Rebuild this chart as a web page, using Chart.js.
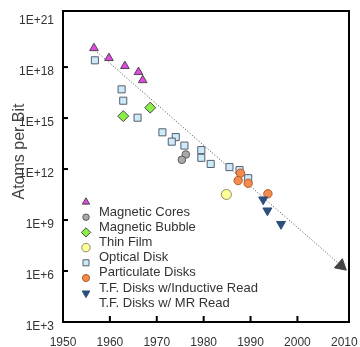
<!DOCTYPE html>
<html><head><meta charset="utf-8">
<script src="https://cdn.jsdelivr.net/npm/chart.js@4/dist/chart.umd.min.js"></script>
<style>html,body{margin:0;padding:0;background:#fff;}#wrap{width:360px;height:347px;}</style>
</head><body><div id="wrap"><canvas id="c" width="360" height="347"></canvas></div>
<script>
// ---- data ----
const seriesNames = ["Magnetic Cores", "Magnetic Bubble", "Thin Film", "Optical Disk", "Particulate Disks", "T.F. Disks w/Inductive Read", "T.F. Disks w/ MR Read"];
const coresYears = [1956.6, 1959.8, 1963.2, 1966.1, 1967.0];
const coresValues = [1.3e19, 3.4e18, 1.15e18, 5.1e17, 1.7e17];
const bubbleYears = [1976.2, 1975.35];
const bubbleValues = [7.2e12, 3.5e12];
const thinFilmYears = [1962.85, 1968.6];
const thinFilmValues = [1.3e15, 4.1e15];
const opticalYears = [1984.85];
const opticalValues = [3.2e10];
const particulateYears = [1956.8, 1962.5, 1962.85, 1965.9, 1971.2, 1974.05, 1973.2, 1975.9, 1979.5, 1979.5, 1981.5, 1985.5, 1987.65, 1989.5];
const particulateValues = [2.5e18, 4.9e16, 1.05e16, 1.05e15, 1.45e14, 7.6e13, 4.1e13, 2.4e13, 1.3e13, 4.6e12, 2.0e12, 1.3e12, 8.7e11, 2.9e11];
const inductiveYears = [1987.85, 1987.35, 1989.5, 1993.7];
const inductiveValues = [5.7e11, 2.1e11, 1.45e11, 3.5e10];
const mrYears = [1992.7, 1993.6, 1996.5];
const mrValues = [1.6e10, 3.6e9, 5.8e8];
const trendYears = [1956.8, 2009.3];
const trendValues = [1.0e19, 2.1e6];
const xTickValues = [1950, 1960, 1970, 1980, 1990, 2000, 2010];
const yTickExponents = [3, 6, 9, 12, 15, 18, 21];
const yAxisTitle = "Atoms per Bit";

function pts(xs, ys) { return xs.map((x, i) => ({ x: x, y: ys[i] })); }

const styles = [
  { pointStyle: 'triangle', radius: 5, rotation: 0, bg: '#e645e6', border: '#4a4a4a' },
  { pointStyle: 'circle', radius: 3.8, rotation: 0, bg: '#a9a9a9', border: '#5a5a5a' },
  { pointStyle: 'rectRot', radius: 5.5, rotation: 0, bg: '#8cec48', border: '#4a4a4a' },
  { pointStyle: 'circle', radius: 5, rotation: 0, bg: '#ffff99', border: '#8a8a6a' },
  { pointStyle: 'rect', radius: 5, rotation: 0, bg: '#cde9fa', border: '#55606a' },
  { pointStyle: 'circle', radius: 4.2, rotation: 0, bg: '#f48a4e', border: '#b35a2a' },
  { pointStyle: 'triangle', radius: 5.2, rotation: 180, bg: '#2d4f7c', border: '#2d4f7c' }
];
const seriesData = [
  pts(coresYears, coresValues), pts(bubbleYears, bubbleValues), pts(thinFilmYears, thinFilmValues),
  pts(opticalYears, opticalValues), pts(particulateYears, particulateValues),
  pts(inductiveYears, inductiveValues), pts(mrYears, mrValues)
];

const datasets = seriesData.map((d, i) => ({
  label: seriesNames[i], data: d, type: 'scatter', showLine: false,
  pointStyle: styles[i].pointStyle, pointRadius: styles[i].radius, pointRotation: styles[i].rotation,
  pointBackgroundColor: styles[i].bg, pointBorderColor: styles[i].border, pointBorderWidth: 1,
  pointHoverRadius: styles[i].radius, order: 7 - i
}));
datasets.push({
  label: 'trend', type: 'line', data: pts(trendYears, trendValues),
  borderColor: '#444', borderWidth: 1, borderDash: [1, 2], fill: false,
  pointRadius: [0, 7], pointHoverRadius: [0, 7], pointStyle: 'triangle', pointRotation: 131.2,
  pointBackgroundColor: '#444', pointBorderColor: '#444', pointBorderWidth: 1, order: 20
});

const FONT = "'Liberation Sans', Arial, Helvetica, sans-serif";

function drawMarker(ctx, st, x, y, r) {
  ctx.save();
  ctx.fillStyle = st.bg; ctx.strokeStyle = st.border; ctx.lineWidth = 1;
  if (Chart.helpers && Chart.helpers.drawPoint) {
    Chart.helpers.drawPoint(ctx, { pointStyle: st.pointStyle, radius: r, rotation: st.rotation, borderWidth: 1 }, x, y);
  }
  ctx.restore();
}

const decor = {
  id: 'decor',
  afterDraw(chart) {
    const ctx = chart.ctx, a = chart.chartArea;
    const xs = chart.scales.x, ys = chart.scales.y;
    ctx.save();
    // inner tick marks
    ctx.strokeStyle = '#000'; ctx.lineWidth = 2;
    xs.ticks.forEach(t => {
      const px = xs.getPixelForValue(t.value);
      if (px - a.left < 6 || a.right - px < 6) return;
      ctx.beginPath(); ctx.moveTo(px, a.bottom); ctx.lineTo(px, a.bottom - 6); ctx.stroke();
    });
    ys.ticks.forEach(t => {
      const py = ys.getPixelForValue(t.value);
      if (py - a.top < 6 || a.bottom - py < 6) return;
      ctx.beginPath(); ctx.moveTo(a.left, py); ctx.lineTo(a.left + 5, py); ctx.stroke();
    });
    // frame
    ctx.strokeRect(a.left, a.top, a.right - a.left, a.bottom - a.top);
    // y title
    ctx.fillStyle = '#444';
    ctx.font = '16px ' + FONT;
    ctx.textAlign = 'center'; ctx.textBaseline = 'middle';
    ctx.translate(20, (a.top + a.bottom) / 2 - 15);
    ctx.rotate(-Math.PI / 2);
    ctx.fillText(yAxisTitle, 0, 0);
    ctx.restore();
    // legend
    ctx.save();
    const mx = a.left + 23, tx = a.left + 36, my0 = 202, ty0 = 212, step = 15.2;
    ctx.font = '13px ' + FONT; ctx.fillStyle = '#333';
    ctx.textAlign = 'left'; ctx.textBaseline = 'middle';
    seriesNames.forEach((n, i) => {
      drawMarker(ctx, styles[i], mx, my0 + step * i, styles[i].radius * 0.85);
      ctx.fillStyle = '#333';
      ctx.fillText(n, tx, ty0 + step * i);
    });
    ctx.restore();
  }
};

new Chart(document.getElementById('c'), {
  type: 'scatter',
  data: { datasets: datasets },
  plugins: [decor],
  options: {
    responsive: false, animation: false, devicePixelRatio: 1,
    layout: { padding: { left: 0, right: 11, top: 11, bottom: 0 } },
    plugins: { legend: { display: false }, tooltip: { enabled: false } },
    scales: {
      x: {
        type: 'linear', min: 1950, max: 2011,
        afterBuildTicks: s => { s.ticks = xTickValues.map(v => ({ value: v })); },
        afterFit: s => { s.height = 25; s.paddingLeft = 0; s.paddingRight = 0; },
        grid: { display: false, drawTicks: false }, border: { display: false },
        ticks: { color: '#333', font: { size: 12, family: FONT }, padding: 13, maxRotation: 0, autoSkip: false,
          callback: v => String(v) }
      },
      y: {
        type: 'logarithmic', min: 1e3, max: Math.pow(10, 21.3),
        afterBuildTicks: s => { s.ticks = yTickExponents.map(e => ({ value: Math.pow(10, e) })); },
        afterFit: s => { s.width = 63; s.paddingTop = 0; s.paddingBottom = 0; },
        grid: { display: false, drawTicks: false }, border: { display: false },
        ticks: { color: '#333', font: { size: 12, family: FONT }, padding: 9, labelOffset: 5, autoSkip: false,
          callback: v => '1E+' + Math.round(Math.log10(v)) }
      }
    }
  }
});
</script></body></html>
